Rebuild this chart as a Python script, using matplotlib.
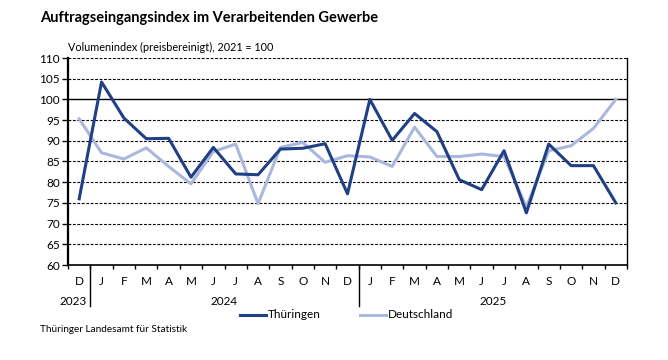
import matplotlib.pyplot as plt
from matplotlib.lines import Line2D

plt.rcParams['font.family'] = ['Lato', 'DejaVu Sans']

# Monate Dez 2023 bis Dez 2025
monate = ["D", "J", "F", "M", "A", "M", "J", "J", "A", "S", "O", "N", "D",
          "J", "F", "M", "A", "M", "J", "J", "A", "S", "O", "N", "D"]
jahre = ["2023", "2024", "2025"]

thueringen = [76.0, 104.2, 95.5, 90.5, 90.6, 81.2, 88.4, 82.0, 81.8, 88.0, 88.2, 89.3, 77.2,
              100.0, 90.1, 96.6, 92.2, 80.6, 78.2, 87.6, 72.6, 89.2, 84.0, 84.0, 75.0]
deutschland = [95.3, 87.1, 85.6, 88.3, 83.8, 79.6, 87.4, 89.2, 74.8, 88.4, 89.6, 84.8, 86.4,
               86.1, 83.8, 93.3, 86.2, 86.2, 86.8, 86.2, 74.0, 87.6, 88.8, 93.0, 100.0]

W, H = 668, 360
fig = plt.figure(figsize=(W / 100, H / 100), dpi=100)
ax = fig.add_axes([68 / W, 1 - 265 / H, (627 - 68) / W, (265 - 58) / H])

x = list(range(len(monate)))
ax.set_xlim(-0.5, len(monate) - 0.5)
ax.set_ylim(60, 110)

# Gitterlinien
for v in range(65, 111, 5):
    if v == 100:
        ax.axhline(v, color="black", lw=1.0, zorder=1)
    else:
        ax.axhline(v, color="black", lw=0.8, ls=(0, (2.5, 1.5)), zorder=1)

ax.plot(x, deutschland, color="#a9b8dc", lw=2.2, zorder=3)
ax.plot(x, thueringen, color="#203f85", lw=2.2, zorder=4)

ax.set_yticks(range(60, 111, 5))
ax.tick_params(axis="y", labelsize=8.5, length=4, width=1, pad=2)
ax.set_xticks([i - 0.5 for i in range(len(monate) + 1)])
ax.set_xticklabels([])
ax.tick_params(axis="x", length=3, width=1, direction="out")

ax.spines["top"].set_visible(False)
ax.spines["left"].set_linewidth(1.6)
ax.spines["bottom"].set_linewidth(1.2)
ax.spines["right"].set_linewidth(1.0)

# Monatsbeschriftungen
for i, m in enumerate(monate):
    ax.text(i, -0.08, m, transform=ax.get_xaxis_transform(), ha="center", va="center", fontsize=8.5)

# Jahresbeschriftungen und Trennlinien
tr = ax.get_xaxis_transform()
ax.text(0.35, -0.175, jahre[0], transform=tr, ha="right", va="center", fontsize=8.5)
ax.text(6.5, -0.175, jahre[1], transform=tr, ha="center", va="center", fontsize=8.5)
ax.text(18.5, -0.175, jahre[2], transform=tr, ha="center", va="center", fontsize=8.5)
for b in [0.5, 12.5]:
    ax.add_line(Line2D([b, b], [0, -0.2], transform=tr, color="black", lw=1.0, clip_on=False))

# Legende
fig.add_artist(Line2D([240 / W, 266 / W], [1 - 315 / H] * 2, color="#203f85", lw=2.2))
fig.text(268 / W, 1 - 315 / H, "Thüringen", ha="left", va="center", fontsize=8.5)
fig.add_artist(Line2D([360 / W, 386 / W], [1 - 315 / H] * 2, color="#a9b8dc", lw=2.2))
fig.text(388 / W, 1 - 315 / H, "Deutschland", ha="left", va="center", fontsize=8.5)

fig.text(40 / W, 1 - 18 / H, "Auftragseingangsindex im Verarbeitenden Gewerbe",
         ha="left", va="center", fontsize=10.5, fontweight="bold")
fig.text(68 / W, 1 - 47 / H, "Volumenindex (preisbereinigt), 2021 = 100",
         ha="left", va="center", fontsize=7.8)
fig.text(40 / W, 1 - 330 / H, "Thüringer Landesamt für Statistik",
         ha="left", va="center", fontsize=7.2)

fig.savefig("out.png", dpi=100)
